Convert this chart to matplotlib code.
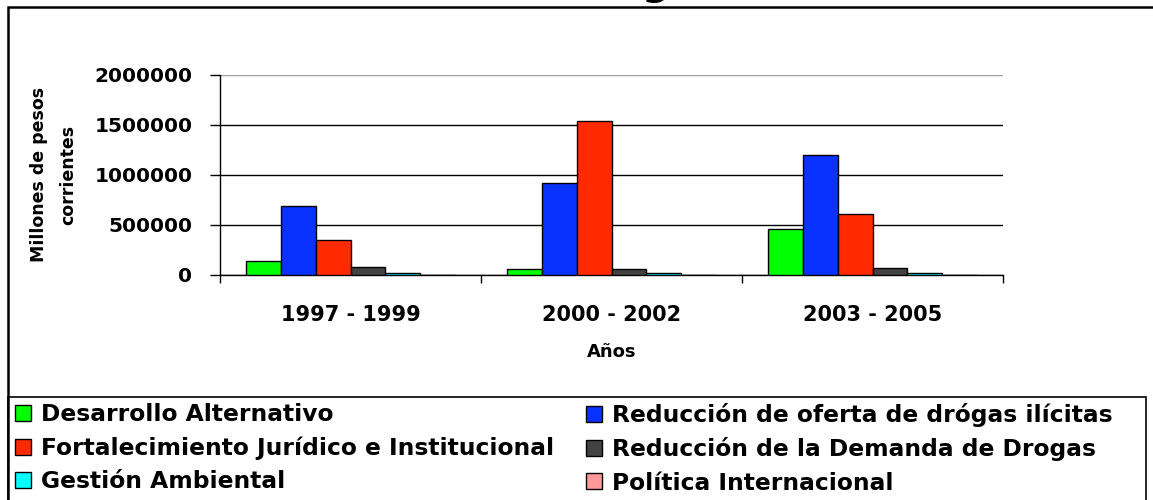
import matplotlib
matplotlib.use("Agg")
import matplotlib.pyplot as plt
from matplotlib.patches import Rectangle, Patch
import numpy as np

categories = ["1997 - 1999", "2000 - 2002", "2003 - 2005"]
series_names = [
    "Desarrollo Alternativo",
    "Reducción de oferta de drógas ilícitas",
    "Fortalecimiento Jurídico e Institucional",
    "Reducción de la Demanda de Drogas",
    "Gestión Ambiental",
    "Política Internacional",
]
desarrollo = [136000, 57000, 455000]
oferta = [688000, 916000, 1197000]
fortalecimiento = [341000, 1538000, 605000]
demanda = [80000, 57000, 66000]
gestion = [13000, 17000, 17000]
politica = [0, 0, 0]
colors = ["#00FF00", "#0A32FF", "#FF2A00", "#424242", "#00FFFF", "#FF9999"]
yticks = [0, 500000, 1000000, 1500000, 2000000]

series = [desarrollo, oferta, fortalecimiento, demanda, gestion, politica]

W, H = 1153, 500
fig = plt.figure(figsize=(W / 100, H / 100), dpi=100)
plt.rcParams['font.family'] = ['DejaVu Sans']

def fx(px):
    return px / W

def fy(py):
    return (H - py) / H

# axes
left, right, top, bottom = 220, 1003, 75, 274.5
ax = fig.add_axes([fx(left), fy(bottom), fx(right - left), (bottom - top) / H])

n = len(series)
w = 1 / 7.5
x = np.arange(len(categories))
handles = []
for j, (vals, c, name) in enumerate(zip(series, colors, series_names)):
    ax.bar(x + (j - (n - 1) / 2) * w, vals, width=w, color=c,
           edgecolor="black", linewidth=1, zorder=3)
    handles.append(Patch(facecolor=c, edgecolor="black", linewidth=1, label=name))

ax.set_xlim(-0.5, len(categories) - 0.5)
ax.set_ylim(0, 2000000)
ax.set_yticks(yticks)
ax.set_yticklabels([str(v) for v in yticks], fontsize=14.5, fontweight="bold")
ax.tick_params(axis="y", direction="out", length=7, width=1, pad=13, color="black")
ax.set_xticks(x)
ax.set_xticklabels(categories, fontsize=15, fontweight="bold")
ax.set_xticks(np.arange(len(categories) + 1) - 0.5, minor=True)
ax.tick_params(axis="x", which="major", length=0, pad=22)
ax.tick_params(axis="x", which="minor", direction="out", length=6, width=1)

ax.grid(axis="y", color="black", linewidth=1, zorder=0)
ax.set_axisbelow(True)
gl = ax.get_ygridlines()
gl[-1].set_color("#A0A0A0")
for s in ["top", "right"]:
    ax.spines[s].set_visible(False)
for s in ["left", "bottom"]:
    ax.spines[s].set_color("black")
    ax.spines[s].set_linewidth(1)

ax.set_xlabel("Años", fontsize=13, fontweight="bold", va="center")
ax.xaxis.set_label_coords(0.5, (bottom - 352) / (bottom - top))
ax.set_ylabel("Millones de pesos\ncorrientes", fontsize=12.5, fontweight="bold",
              va="center", ha="center", linespacing=1.8)
ax.yaxis.set_label_coords((54 - left) / (right - left), 0.5)

# outer frame and legend frame
fig.patches.append(Rectangle((fx(7.5), fy(510)), fx(1160), fy(6.5) - fy(510),
                             transform=fig.transFigure, fill=False,
                             edgecolor="black", linewidth=1.8))
fig.patches.append(Rectangle((fx(7.5), fy(510)), fx(1146 - 7.5), fy(397) - fy(510),
                             transform=fig.transFigure, fill=False,
                             edgecolor="black", linewidth=1.2))

# partially visible title remnant
fig.text(fx(655), (H + 5) / H, "g", fontsize=28, fontweight="bold",
         ha="center", va="baseline")

leg_kw = dict(prop={"weight": "bold", "size": 16.8}, frameon=False,
              handlelength=0.68, handleheight=0.68, handletextpad=0.45,
              labelspacing=0.44, borderpad=0, borderaxespad=0,
              loc="upper left", bbox_transform=fig.transFigure)
col1 = [handles[0], handles[2], handles[4]]
col2 = [handles[1], handles[3], handles[5]]
l1 = fig.legend(handles=col1, bbox_to_anchor=(fx(15), fy(403)), **leg_kw)
l2 = fig.legend(handles=col2, bbox_to_anchor=(fx(586), fy(403)), **leg_kw)

fig.savefig("out.png", dpi=100)
